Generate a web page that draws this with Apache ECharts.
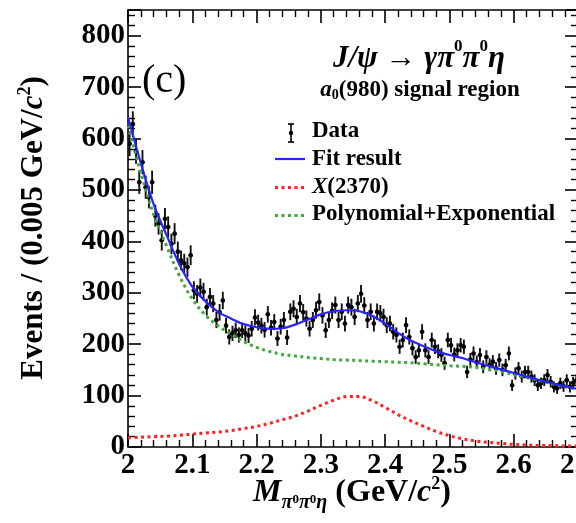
<!DOCTYPE html>
<html>
<head>
<meta charset="utf-8">
<script src="https://cdn.jsdelivr.net/npm/echarts@6/dist/echarts.min.js"></script>
<style>html,body{margin:0;padding:0;background:#fff;}#c{width:576px;height:523px;}</style>
</head>
<body>
<div id="c"></div>
<script>
// ---- data ----
const binStart = 2.0;
const binWidth = 0.005;
const counts = [
 590,628,575,515,554,505,486,515,450,434,
 402,444,428,395,415,380,363,357,350,373,
 305,298,310,302,272,292,279,247,262,285,
 236,214,221,227,218,227,221,217,230,252,
 242,236,228,258,232,243,211,234,247,213,
 263,269,253,279,262,250,230,247,266,282,
 256,227,247,265,276,247,263,240,276,272,
 253,279,298,275,247,263,240,263,260,253,
 237,240,224,218,195,208,237,214,192,175,
 188,224,188,175,208,195,186,179,163,208,
 198,180,188,198,195,146,170,182,165,179,
 156,175,160,166,153,169,150,159,182,120,
 143,153,137,146,146,137,130,120,124,130,
 140,127,117,114,124,118,130,117,125,130
];
const curveX = [2.00,2.02,2.04,2.06,2.08,2.10,2.12,2.14,2.16,2.18,2.20,2.22,2.24,2.26,2.28,2.30,2.32,2.34,2.36,2.38,2.40,2.42,2.44,2.46,2.48,2.50,2.52,2.54,2.56,2.58,2.60,2.62,2.64,2.66,2.68,2.70];
const fitY  = [642,552,472,412,355,312,284,263,250,239,233,230,231,238,248,258,264,266,264,255,240,222,207,196,186,179,173,165,158,151,144,137,130,124,118,113];
const x2370Y = [18,19,20,21,23,25,27,29,32,36,40,46,53,60,70,81,91,98,98,90,77,63,51,40,30,22,16,12,9,7,5,4,3,3,2,2];
const bkgY  = [625,533,452,391,333,288,257,236,220,205,194,186,180,177,174,172,170,169,168,167,166,165,164,162,160,158,157,155,151,147,141,135,129,123,117,112];
const xTickLabels = ['2','2.1','2.2','2.3','2.4','2.5','2.6','2.7'];
const yTickLabels = ['0','100','200','300','400','500','600','700','800'];

// ---- build ----
const F = 'Liberation Serif';
const dataPts = counts.map((v, i) => [binStart + binWidth * (i + 0.5), v, Math.sqrt(v)]);
const pair = ys => curveX.map((x, i) => [x, ys[i]]);

function xFmt(v) {
  const k = Math.round((v - 2) * 10);
  if (Math.abs(v - 2 - k / 10) > 1e-6) return '';
  return xTickLabels[k] || '';
}
function yFmt(v) {
  const k = Math.round(v / 100);
  if (Math.abs(v - k * 100) > 1e-6) return '';
  return yTickLabels[k] || '';
}

const axisCommon = {
  axisLine: { show: true, onZero: false, lineStyle: { color: '#000', width: 1.6 } },
  axisTick: { show: true, inside: true, length: 13, lineStyle: { color: '#000', width: 1.6 } },
  minorTick: { show: true, splitNumber: 5, length: 7, lineStyle: { color: '#000', width: 1.4 } },
  splitLine: { show: false },
  minorSplitLine: { show: false }
};

const chart = echarts.init(document.getElementById('c'));
chart.setOption({
  animation: false,
  backgroundColor: '#fff',
  grid: { left: 128, top: 10, width: 450, height: 437, outerBoundsMode: 'none', containLabel: false },
  xAxis: [
    Object.assign({ type: 'value', min: 2.0, max: 2.7, interval: 0.1, position: 'bottom',
      axisLabel: { formatter: xFmt, fontFamily: F, fontWeight: 'bold', fontSize: 29, color: '#000', margin: 4, hideOverlap: false } }, axisCommon),
    Object.assign({ type: 'value', min: 2.0, max: 2.7, interval: 0.1, position: 'top',
      axisLabel: { show: false } }, axisCommon)
  ],
  yAxis: [
    Object.assign({ type: 'value', min: 0, max: 850, interval: 100, position: 'left',
      axisLabel: { formatter: yFmt, fontFamily: F, fontWeight: 'bold', fontSize: 29, color: '#000', margin: 3 } }, axisCommon),
    Object.assign({ type: 'value', min: 0, max: 850, interval: 100, position: 'right',
      axisLabel: { show: false } }, axisCommon)
  ],
  series: [
    {
      type: 'custom', name: 'Data', clip: true, z: 2,
      data: dataPts,
      renderItem: function (params, api) {
        const x = api.value(0), y = api.value(1), e = api.value(2);
        const c = api.coord([x, y]);
        const t = api.coord([x, y + e]);
        const b = api.coord([x, y - e]);
        const l = api.coord([x - binWidth / 2, y]);
        const r = api.coord([x + binWidth / 2, y]);
        return { type: 'group', children: [
          { type: 'line', shape: { x1: c[0], y1: t[1], x2: c[0], y2: b[1] }, style: { stroke: '#111', lineWidth: 1.9 } },
          { type: 'line', shape: { x1: l[0] - 0.5, y1: c[1], x2: r[0] + 0.5, y2: c[1] }, style: { stroke: '#111', lineWidth: 1.9 } },
          { type: 'circle', shape: { cx: c[0], cy: c[1], r: 2.3 }, style: { fill: '#000' } }
        ]};
      }
    },
    { type: 'line', name: 'Polynomial+Exponential', data: pair(bkgY), smooth: 0.35, symbol: 'none', z: 3,
      lineStyle: { color: '#3fa83f', width: 3, type: [3, 3.5], cap: 'butt' } },
    { type: 'line', name: 'X(2370)', data: pair(x2370Y), smooth: 0.35, symbol: 'none', z: 3,
      lineStyle: { color: '#ff2020', width: 3, type: [3, 3.5], cap: 'butt' } },
    { type: 'line', name: 'Fit result', data: pair(fitY), smooth: 0.35, symbol: 'none', z: 4,
      lineStyle: { color: '#2a22ff', width: 2.2 } }
  ],
  graphic: [
    // y title
    { type: 'text', x: 8, y: 228, rotation: Math.PI / 2, z: 10,
      style: { text: '{m|Events / (0.005 GeV/}{i|c}{s|2}{m|)}', align: 'center', verticalAlign: 'top',
        rich: {
          m: { fontFamily: F, fontWeight: 'bold', fontSize: 31, fill: '#000', verticalAlign: 'top', padding: [10, 0, 0, 0] },
          i: { fontFamily: F, fontWeight: 'bold', fontStyle: 'italic', fontSize: 31, fill: '#000', verticalAlign: 'top', padding: [10, 0, 0, 0] },
          s: { fontFamily: F, fontWeight: 'bold', fontSize: 18, fill: '#000', verticalAlign: 'top', padding: [8, 0, 0, 0] }
        } } },
    // x title
    { type: 'text', x: 352, y: 468, z: 10,
      style: { text: '{M|M}{sub|π}{sp|0}{sub|π}{sp|0}{sub|η}{m| (GeV/}{i|c}{s|2}{m|)}', align: 'center', verticalAlign: 'top',
        rich: {
          M: { fontFamily: F, fontWeight: 'bold', fontStyle: 'italic', fontSize: 32, fill: '#000', verticalAlign: 'top', padding: [9, 0, 0, 0] },
          sub: { fontFamily: F, fontWeight: 'bold', fontStyle: 'italic', fontSize: 20, fill: '#000', verticalAlign: 'top', padding: [25, 0, 0, 0] },
          sp: { fontFamily: F, fontWeight: 'bold', fontSize: 13, fill: '#000', verticalAlign: 'top', padding: [25, 0, 0, 0] },
          m: { fontFamily: F, fontWeight: 'bold', fontSize: 32, fill: '#000', verticalAlign: 'top', padding: [9, 0, 0, 0] },
          i: { fontFamily: F, fontWeight: 'bold', fontStyle: 'italic', fontSize: 32, fill: '#000', verticalAlign: 'top', padding: [9, 0, 0, 0] },
          s: { fontFamily: F, fontWeight: 'bold', fontSize: 18, fill: '#000', verticalAlign: 'top', padding: [7, 0, 0, 0] }
        } } },
    // (c)
    { type: 'text', x: 142, y: 81, z: 10,
      style: { text: '(c)', fontFamily: F, fontSize: 40, fill: '#000', align: 'left', verticalAlign: 'middle' } },
    // process label
    { type: 'text', x: 419, y: 33, z: 10,
      style: { text: '{b|J/ψ}{a| → }{b|γπ}{s|0}{b|π}{s|0}{b|η}', align: 'center', verticalAlign: 'top',
        rich: {
          b: { fontFamily: F, fontWeight: 'bold', fontStyle: 'italic', fontSize: 31, fill: '#000', verticalAlign: 'top', padding: [10, 0, 0, 0] },
          a: { fontFamily: F, fontSize: 31, fill: '#000', verticalAlign: 'top', padding: [10, 0, 0, 0] },
          s: { fontFamily: F, fontWeight: 'bold', fontSize: 17, fill: '#000', verticalAlign: 'top', padding: [5, 0, 0, 0] }
        } } },
    { type: 'text', x: 420, y: 74, z: 10,
      style: { text: '{i|a}{u|0}{m|(980) signal region}', align: 'center', verticalAlign: 'top',
        rich: {
          i: { fontFamily: F, fontWeight: 'bold', fontStyle: 'italic', fontSize: 23, fill: '#000', verticalAlign: 'top', padding: [5, 0, 0, 0] },
          u: { fontFamily: F, fontWeight: 'bold', fontSize: 14, fill: '#000', verticalAlign: 'top', padding: [14, 0, 0, 0] },
          m: { fontFamily: F, fontWeight: 'bold', fontSize: 23, fill: '#000', verticalAlign: 'top', padding: [5, 0, 0, 0] }
        } } },
    // legend
    { type: 'line', shape: { x1: 291, y1: 124, x2: 291, y2: 142 }, style: { stroke: '#000', lineWidth: 1.6 }, z: 10 },
    { type: 'line', shape: { x1: 288, y1: 124, x2: 294, y2: 124 }, style: { stroke: '#000', lineWidth: 1.6 }, z: 10 },
    { type: 'line', shape: { x1: 288, y1: 142, x2: 294, y2: 142 }, style: { stroke: '#000', lineWidth: 1.6 }, z: 10 },
    { type: 'circle', shape: { cx: 291, cy: 133, r: 2.2 }, style: { fill: '#000' }, z: 10 },
    { type: 'text', x: 312, y: 131, z: 10, style: { text: 'Data', fontFamily: F, fontWeight: 'bold', fontSize: 23, fill: '#000', verticalAlign: 'middle' } },
    { type: 'line', shape: { x1: 275, y1: 159, x2: 305, y2: 159 }, style: { stroke: '#2a22ff', lineWidth: 2.2 }, z: 10 },
    { type: 'text', x: 312, y: 159, z: 10, style: { text: 'Fit result', fontFamily: F, fontWeight: 'bold', fontSize: 23, fill: '#000', verticalAlign: 'middle' } },
    { type: 'line', shape: { x1: 275, y1: 187.5, x2: 305, y2: 187.5 }, style: { stroke: '#ff2020', lineWidth: 3, lineDash: [3, 3.5] }, z: 10 },
    { type: 'text', x: 312, y: 187, z: 10, style: { text: '{i|X}{m|(2370)}', verticalAlign: 'middle',
        rich: { i: { fontFamily: F, fontWeight: 'bold', fontStyle: 'italic', fontSize: 23, fill: '#000' },
                m: { fontFamily: F, fontWeight: 'bold', fontSize: 23, fill: '#000' } } } },
    { type: 'line', shape: { x1: 275, y1: 215.5, x2: 305, y2: 215.5 }, style: { stroke: '#3fa83f', lineWidth: 3, lineDash: [3, 3.5] }, z: 10 },
    { type: 'text', x: 312, y: 214, z: 10, style: { text: 'Polynomial+Exponential', fontFamily: F, fontWeight: 'bold', fontSize: 23, fill: '#000', verticalAlign: 'middle' } }
  ]
});
</script>
</body>
</html>
